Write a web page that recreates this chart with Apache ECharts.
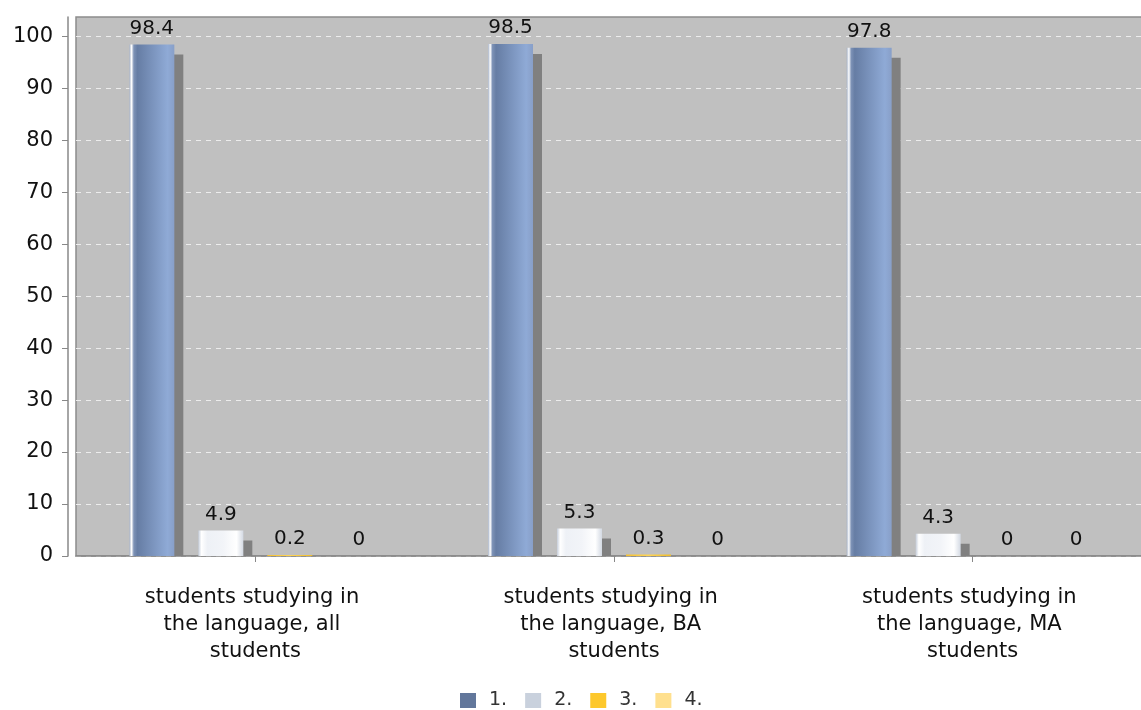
<!DOCTYPE html>
<html>
<head>
<meta charset="utf-8">
<script src="https://cdn.jsdelivr.net/npm/echarts@6/dist/echarts.min.js"></script>
<style>
html,body{margin:0;padding:0;background:#fff;}
#chart{width:1141px;height:710px;}
</style>
</head>
<body>
<div id="chart"></div>
<script>
// ---- data ----
const categories = [
  'students studying in the language, all students',
  'students studying in the language, BA students',
  'students studying in the language, MA students'
];
const seriesNames = ['1.', '2.', '3.', '4.'];
const values1 = [98.4, 98.5, 97.8];
const values2 = [4.9, 5.3, 4.3];
const values3 = [0.2, 0.3, 0];
const values4 = [0, 0, 0];
const yTicks = [0, 10, 20, 30, 40, 50, 60, 70, 80, 90, 100];

// ---- style ----
const FONT = 'DejaVu Sans';
const TEXT = '#111';
const BAR_W = 45, BAR_GAP = 24;
const SHADOW_DX = 9, SHADOW_DY = 10;
const legendColors = ['#62779b', '#c9d1dd', '#fdc82c', '#ffe08e'];
const grad = (stops) => new echarts.graphic.LinearGradient(0, 0, 1, 0,
  stops.map(s => ({offset: s[0], color: s[1]})));
const barColors = [
  grad([[0,'#a7b3c8'],[0.05,'#ffffff'],[0.1,'#7d92b6'],[0.18,'#667da4'],[0.85,'#8faad6'],[1,'#889fc8']]),
  grad([[0,'#c5cdda'],[0.07,'#ffffff'],[0.2,'#eef1f6'],[0.55,'#f2f4f8'],[0.85,'#ffffff'],[1,'#d3d9e3']]),
  grad([[0,'#f5c030'],[0.5,'#ffd555'],[1,'#f0bc28']]),
  grad([[0,'#fbdc88'],[0.5,'#ffe8a8'],[1,'#f8d880']])
];
const allValues = [values1, values2, values3, values4];

const shadowData = [];
allValues.forEach((vals, k) => vals.forEach((v, c) => shadowData.push([c, v, k])));

const chart = echarts.init(document.getElementById('chart'), null, {renderer: 'canvas'});

const barSeries = allValues.map((vals, k) => ({
  name: seriesNames[k],
  type: 'bar',
  data: vals,
  barWidth: BAR_W,
  barGap: (BAR_GAP / BAR_W * 100) + '%',
  z: 3,
  itemStyle: {color: barColors[k]},
  label: {
    show: true, position: 'top', distance: 6,
    fontFamily: FONT, fontSize: 20, color: TEXT
  }
}));

const shadowSeries = {
  type: 'custom',
  z: 2,
  silent: true,
  data: shadowData,
  renderItem: function (params, api) {
    const c = api.value(0), v = api.value(1), k = api.value(2);
    const top = api.coord([c, v]);
    const base = api.coord([c, 0]);
    const step = BAR_W + BAR_GAP;
    const x = top[0] + (k - 1.5) * step - BAR_W / 2 + SHADOW_DX;
    const y = top[1] + SHADOW_DY;
    const h = base[1] - top[1];
    const cs = params.coordSys;
    const rect = echarts.graphic.clipRectByRect(
      {x: x, y: y, width: BAR_W, height: h},
      {x: cs.x, y: cs.y, width: cs.width, height: cs.height});
    if (!rect || rect.height <= 0) return null;
    return {type: 'rect', shape: rect, style: {fill: '#808080'}};
  },
  encode: {x: 0, y: 1}
};

chart.setOption({
  animation: false,
  backgroundColor: '#ffffff',
  textStyle: {fontFamily: FONT},
  grid: {
    left: 76, top: 17, width: 1076, bottom: 154,
    outerBoundsMode: 'none',
    show: true, backgroundColor: '#c0c0c0',
    borderColor: '#8c8c8c', borderWidth: 1.5
  },
  legend: {
    top: 686, left: 455,
    itemWidth: 16, itemHeight: 15, itemGap: 18,
    icon: 'rect',
    textStyle: {fontFamily: FONT, fontSize: 19, color: '#333', padding: [0, 0, 0, 8]},
    data: seriesNames.map((n, i) => ({name: n, itemStyle: {color: legendColors[i]}}))
  },
  xAxis: {
    type: 'category',
    data: categories,
    offset: 9,
    axisLine: {show: true, lineStyle: {color: '#888', width: 1.5}},
    axisTick: {show: true, alignWithLabel: true, interval: 0, length: 6, lineStyle: {color: '#888'}},
    axisLabel: {
      fontFamily: FONT, fontSize: 21, color: TEXT, margin: 19, interval: 0,
      width: 240, overflow: 'break', lineHeight: 27, align: 'center'
    },
    splitLine: {show: false}
  },
  yAxis: {
    type: 'value',
    min: 0, max: 103.7, interval: 10,
    offset: 8,
    axisLine: {show: true, lineStyle: {color: '#888', width: 1.5}},
    axisTick: {show: true, length: 6, lineStyle: {color: '#888'}, customValues: yTicks},
    axisLabel: {fontFamily: FONT, fontSize: 21, color: TEXT, margin: 15, customValues: yTicks},
    splitLine: {show: true, lineStyle: {color: '#ececec', type: [5, 5], width: 1}}
  },
  series: [shadowSeries].concat(barSeries)
});
</script>
</body>
</html>
